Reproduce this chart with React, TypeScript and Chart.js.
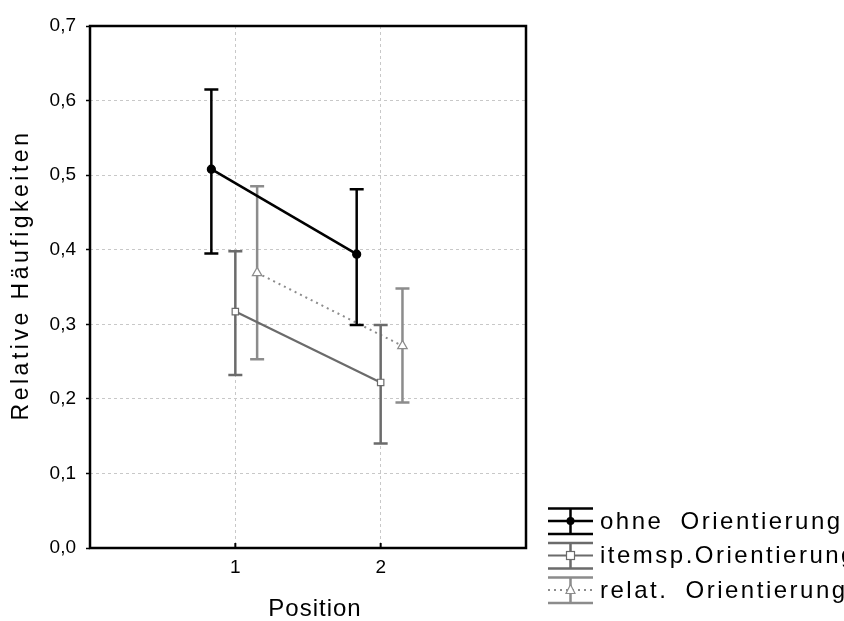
import React, { useEffect, useRef } from 'react';
import { Chart, registerables } from 'chart.js';

Chart.register(...registerables);

// ---- data ----
const positions = [1, 2];
const seriesNames = ['ohne Orientierung', 'itemsp.Orientierung', 'relat. Orientierung'];
const ohneMean = [0.508, 0.394];
const ohneLow = [0.395, 0.299];
const ohneHigh = [0.615, 0.481];
const itemMean = [0.317, 0.222];
const itemLow = [0.232, 0.14];
const itemHigh = [0.398, 0.299];
const relatMean = [0.369, 0.271];
const relatLow = [0.253, 0.195];
const relatHigh = [0.485, 0.348];
const dodge = [-0.165, 0, 0.15];
const xTickValues = [1, 2];
const yMin = 0;
const yMax = 0.7;
const yStep = 0.1;

const FONT = '"Liberation Sans", Arial, sans-serif';

const styles = [
  { color: '#000000', width: 2.5, dash: [] as number[], marker: 'circle' },
  { color: '#6b6b6b', width: 2.2, dash: [] as number[], marker: 'rect' },
  { color: '#8c8c8c', width: 2, dash: [2, 4], marker: 'triangle' },
];

function drawMarker(ctx: CanvasRenderingContext2D, kind: string, x: number, y: number, color: string) {
  ctx.save();
  ctx.setLineDash([]);
  ctx.lineWidth = 1.2;
  ctx.strokeStyle = color;
  if (kind === 'circle') {
    ctx.fillStyle = color;
    ctx.beginPath();
    ctx.arc(x, y, 4, 0, Math.PI * 2);
    ctx.fill();
  } else if (kind === 'rect') {
    ctx.fillStyle = '#ffffff';
    ctx.fillRect(x - 4, y - 4, 8, 8);
    ctx.strokeRect(x - 4, y - 4, 8, 8);
  } else {
    ctx.fillStyle = '#ffffff';
    ctx.beginPath();
    ctx.moveTo(x, y - 5.5);
    ctx.lineTo(x + 4.5, y + 3.5);
    ctx.lineTo(x - 4.5, y + 3.5);
    ctx.closePath();
    ctx.fill();
    ctx.stroke();
  }
  ctx.restore();
}

const errorBarPlugin = {
  id: 'errorBars',
  beforeDatasetDraw(chart: any, args: any) {
    const ds = chart.data.datasets[args.index];
    const xs = chart.scales.x;
    const ys = chart.scales.y;
    const ctx: CanvasRenderingContext2D = chart.ctx;
    ctx.save();
    ctx.setLineDash([]);
    ctx.strokeStyle = ds.errColor;
    ctx.lineWidth = 2.5;
    ds.errLow.forEach((lo: number, i: number) => {
      const px = xs.getPixelForValue(ds.data[i].x);
      const pl = ys.getPixelForValue(lo);
      const ph = ys.getPixelForValue(ds.errHigh[i]);
      ctx.beginPath();
      ctx.moveTo(px, pl);
      ctx.lineTo(px, ph);
      ctx.moveTo(px - 7, pl);
      ctx.lineTo(px + 7, pl);
      ctx.moveTo(px - 7, ph);
      ctx.lineTo(px + 7, ph);
      ctx.stroke();
    });
    ctx.restore();
  },
};

const decorPlugin = {
  id: 'decor',
  afterDraw(chart: any) {
    const ctx: CanvasRenderingContext2D = chart.ctx;
    const a = chart.chartArea;
    const xs = chart.scales.x;
    ctx.save();
    // frame
    ctx.strokeStyle = '#000';
    ctx.lineWidth = 2.5;
    ctx.setLineDash([]);
    ctx.strokeRect(a.left, a.top, a.right - a.left, a.bottom - a.top);
    // inward x ticks
    ctx.lineWidth = 2;
    xTickValues.forEach((v) => {
      const px = xs.getPixelForValue(v);
      ctx.beginPath();
      ctx.moveTo(px, a.bottom);
      ctx.lineTo(px, a.bottom - 5);
      ctx.stroke();
    });
    // axis titles
    ctx.fillStyle = '#000';
    ctx.textAlign = 'center';
    ctx.textBaseline = 'middle';
    (ctx as any).letterSpacing = '1px';
    ctx.font = `24px ${FONT}`;
    ctx.fillText('Position', (a.left + a.right) / 2 + 7, a.bottom + 61);
    ctx.save();
    ctx.translate(22, (a.top + a.bottom) / 2 - 12);
    ctx.rotate(-Math.PI / 2);
    (ctx as any).letterSpacing = '3.5px';
    ctx.font = `23px ${FONT}`;
    ctx.fillText('Relative Häufigkeiten', 0, 0);
    ctx.restore();
    // legend
    const lx = a.right + 22;
    const lw = 45;
    const cx = lx + lw / 2;
    chart.data.datasets.forEach((ds: any, i: number) => {
      const st = styles[i];
      const cy = a.bottom - 27 + i * 34.5;
      const top = cy - 12.5;
      const bot = cy + 13;
      ctx.strokeStyle = ds.errColor;
      ctx.lineWidth = 2.5;
      ctx.setLineDash([]);
      ctx.beginPath();
      ctx.moveTo(lx, top);
      ctx.lineTo(lx + lw, top);
      ctx.moveTo(lx, bot);
      ctx.lineTo(lx + lw, bot);
      ctx.moveTo(cx, top);
      ctx.lineTo(cx, bot);
      ctx.stroke();
      ctx.strokeStyle = st.color;
      ctx.lineWidth = st.width;
      ctx.setLineDash(st.dash);
      ctx.beginPath();
      ctx.moveTo(lx, cy);
      ctx.lineTo(lx + lw, cy);
      ctx.stroke();
      ctx.setLineDash([]);
      drawMarker(ctx, st.marker, cx, cy, st.color);
      ctx.fillStyle = '#000';
      ctx.textAlign = 'left';
      ctx.textBaseline = 'middle';
      ctx.font = `24px ${FONT}`;
      (ctx as any).letterSpacing = '2.5px';
      (ctx as any).wordSpacing = '8px';
      ctx.fillText(ds.label, lx + 52, cy + 1);
    });
    ctx.restore();
  },
};

export default function App() {
  const ref = useRef<HTMLCanvasElement | null>(null);
  useEffect(() => {
    document.body.style.margin = '0';
    if (!ref.current) return;
    const allMeans = [ohneMean, itemMean, relatMean];
    const allLow = [ohneLow, itemLow, relatLow];
    const allHigh = [ohneHigh, itemHigh, relatHigh];
    const datasets = allMeans.map((means, s) => {
      const st = styles[s];
      return {
        label: seriesNames[s],
        data: positions.map((p, i) => ({ x: p + dodge[s], y: means[i] })),
        errLow: allLow[s],
        errHigh: allHigh[s],
        errColor: st.color,
        showLine: true,
        borderColor: st.color,
        borderWidth: st.width,
        borderDash: st.dash,
        backgroundColor: s === 0 ? st.color : '#ffffff',
        pointStyle: st.marker,
        pointRadius: st.marker === 'circle' ? 4 : st.marker === 'rect' ? 4.5 : 5.5,
        pointBorderColor: st.color,
        pointBackgroundColor: s === 0 ? st.color : '#ffffff',
        pointBorderWidth: 1.2,
        fill: false,
        tension: 0,
      } as any;
    });
    const chart = new Chart(ref.current, {
      type: 'scatter',
      data: { datasets },
      options: {
        responsive: false,
        animation: false,
        events: [],
        layout: { padding: { left: 0, right: 318, top: 26, bottom: 0 } },
        plugins: { legend: { display: false }, tooltip: { enabled: false } },
        scales: {
          x: {
            type: 'linear',
            min: 0,
            max: 3,
            afterFit: (scale: any) => { scale.height = 73; },
            afterBuildTicks: (scale: any) => { scale.ticks = xTickValues.map((v) => ({ value: v })); },
            grid: { color: '#c8c8c8', lineWidth: 1, drawTicks: false } as any,
            border: { display: false, dash: [3, 3] } as any,
            ticks: {
              padding: 8,
              color: '#000',
              font: { family: FONT, size: 19 },
              callback: (v: any) => String(v),
            },
          },
          y: {
            type: 'linear',
            min: yMin,
            max: yMax,
            afterFit: (scale: any) => { scale.width = 90; },
            grid: { color: '#c8c8c8', lineWidth: 1, tickColor: '#000', tickLength: 4, tickWidth: 1.5 } as any,
            border: { display: false, dash: [3, 3] } as any,
            ticks: {
              stepSize: yStep,
              padding: 10,
              color: '#000',
              font: { family: FONT, size: 19 },
              callback: (v: any) => Number(v).toFixed(1).replace('.', ','),
            },
          },
        },
      },
      plugins: [errorBarPlugin, decorPlugin],
    } as any);
    return () => chart.destroy();
  }, []);
  return (
    <div style={{ position: 'absolute', left: 0, top: 0, width: 844, height: 621, background: '#fff' }}>
      <canvas ref={ref} width={844} height={621} style={{ display: 'block' }} />
    </div>
  );
}
